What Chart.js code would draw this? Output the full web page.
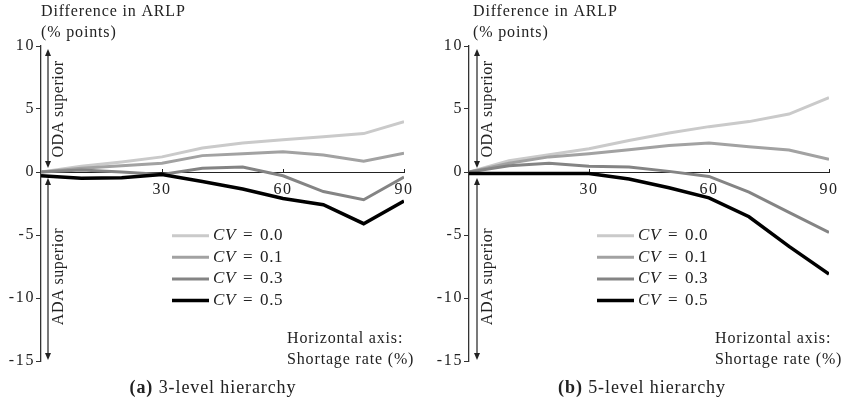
<!DOCTYPE html>
<html><head><meta charset="utf-8">
<script src="https://cdn.jsdelivr.net/npm/chart.js@4/dist/chart.umd.min.js"></script>
<style>
html,body{margin:0;padding:0;background:#fff;}
#wrap{position:relative;width:849px;height:400px;overflow:hidden;background:#fff;}
.panel{position:absolute;top:0;width:424px;height:400px;}
.cap{position:absolute;top:377px;font-family:"Liberation Serif",serif;font-size:18px;letter-spacing:0.9px;color:#222;white-space:nowrap;transform:translateX(-50%);line-height:20px;}
</style></head>
<body><div id="wrap">
<div class="panel" style="left:0"><canvas id="c1" width="424" height="400"></canvas></div>
<div class="panel" style="left:425px"><canvas id="c2" width="424" height="400"></canvas></div>
<div class="cap" style="left:213px"><b>(a)</b> 3-level hierarchy</div>
<div class="cap" style="left:642px"><b>(b)</b> 5-level hierarchy</div>
</div>
<script>
// ---- data ----
const shortageRates = [0, 10, 20, 30, 40, 50, 60, 70, 80, 90];
const cvLabels = ['0.0', '0.1', '0.3', '0.5'];
const yTicks = [10, 5, 0, -5, -10, -15];
const xTickLabels = [30, 60, 90];
// (a) 3-level hierarchy
const a_cv00 = [0, 0.45, 0.8, 1.2, 1.9, 2.3, 2.55, 2.8, 3.05, 4.0];
const a_cv01 = [0, 0.3, 0.5, 0.7, 1.3, 1.45, 1.6, 1.35, 0.85, 1.5];
const a_cv03 = [0, 0.15, 0.0, -0.2, 0.3, 0.4, -0.3, -1.55, -2.2, -0.4];
const a_cv05 = [-0.3, -0.5, -0.45, -0.2, -0.75, -1.35, -2.1, -2.6, -4.1, -2.3];
// (b) 5-level hierarchy
const b_cv00 = [0, 0.9, 1.37, 1.85, 2.5, 3.1, 3.6, 4.0, 4.6, 5.9];
const b_cv01 = [0, 0.7, 1.2, 1.45, 1.77, 2.1, 2.3, 2.0, 1.75, 1.0];
const b_cv03 = [0, 0.5, 0.7, 0.45, 0.4, 0.05, -0.35, -1.6, -3.2, -4.8];
const b_cv05 = [-0.12, -0.12, -0.12, -0.12, -0.55, -1.25, -2.05, -3.55, -5.9, -8.1];

// ---- styles ----
const lineColors = ['#cacaca', '#a2a2a2', '#848484', '#000000'];
const lineWidths = [3, 3, 3, 3.5];
const SERIF = '"Liberation Serif", "DejaVu Serif", serif';
const TXT = '#222';

function toPoints(ys) { return shortageRates.map((x, i) => ({ x: x, y: ys[i] })); }

function drawArrowHead(ctx, x, y, dir) {
  ctx.beginPath();
  ctx.moveTo(x, y);
  ctx.lineTo(x - 3, y - 7 * dir);
  ctx.lineTo(x + 3, y - 7 * dir);
  ctx.closePath();
  ctx.fill();
}

const annotPlugin = {
  id: 'annot',
  beforeDraw(chart) {
    chart.ctx.letterSpacing = '1.6px';
  },
  afterDraw(chart, args, opts) {
    const ctx = chart.ctx;
    const ca = chart.chartArea;
    const ys = chart.scales.y;
    ctx.save();
    ctx.letterSpacing = '0.85px';
    ctx.fillStyle = TXT;
    ctx.strokeStyle = TXT;
    // axis title
    ctx.font = '16px ' + SERIF;
    ctx.textAlign = 'left';
    ctx.textBaseline = 'middle';
    ctx.fillText('Difference in ARLP', ca.left + opts.titleDx, 12);
    ctx.fillText('(% points)', ca.left + opts.titleDx, 33);
    // horizontal axis note
    ctx.fillText('Horizontal axis:', ca.left + 246, 339);
    ctx.fillText('Shortage rate (%)', ca.left + 246, 360);
    // arrows
    const ax = ca.left + opts.arrowDx;
    const z = ys.getPixelForValue(0);
    const t1 = ys.getPixelForValue(10) + 3, b1 = z - 4;
    const t2 = z + 6, b2 = ys.getPixelForValue(-15) - 1;
    ctx.lineWidth = 1.2;
    ctx.beginPath();
    ctx.moveTo(ax, t1 + 5); ctx.lineTo(ax, b1 - 5);
    ctx.moveTo(ax, t2 + 5); ctx.lineTo(ax, b2 - 5);
    ctx.stroke();
    drawArrowHead(ctx, ax, t1, -1);
    drawArrowHead(ctx, ax, b1, 1);
    drawArrowHead(ctx, ax, t2, -1);
    drawArrowHead(ctx, ax, b2, 1);
    // rotated labels
    ctx.letterSpacing = '0.5px';
    ctx.textAlign = 'center';
    ctx.textBaseline = 'middle';
    const tx = ca.left + opts.arrowDx + 11;
    [['ODA superior', 5], ['ADA superior', -8.3]].forEach(([s, v]) => {
      ctx.save();
      ctx.translate(tx, ys.getPixelForValue(v));
      ctx.rotate(-Math.PI / 2);
      ctx.fillText(s, 0, 0);
      ctx.restore();
    });
    // legend
    ctx.letterSpacing = '0.6px';
    const ds = chart.data.datasets;
    ds.forEach((d, i) => {
      const y = 235.7 + i * 21.6;
      ctx.beginPath();
      ctx.lineWidth = d.borderWidth;
      ctx.strokeStyle = d.borderColor;
      ctx.moveTo(ca.left + opts.legDx, y);
      ctx.lineTo(ca.left + opts.legDx + 37, y);
      ctx.stroke();
      ctx.textAlign = 'left';
      ctx.fillStyle = TXT;
      let x = ca.left + opts.legDx + 41;
      ctx.font = 'italic 17px ' + SERIF;
      ctx.fillText('CV', x, y);
      x += ctx.measureText('CV').width + 7;
      ctx.font = '17px ' + SERIF;
      ctx.fillText('=', x, y);
      x += ctx.measureText('=').width + 7;
      ctx.fillText(d.label, x, y);
    });
    ctx.restore();
    ctx.letterSpacing = '0px';
  }
};

function makeChart(id, series, axisWidth, padRight, opts) {
  const datasets = series.map((s, i) => ({
    label: cvLabels[i],
    data: toPoints(s),
    borderColor: lineColors[i],
    backgroundColor: lineColors[i],
    borderWidth: lineWidths[i],
    pointRadius: 0,
    tension: 0,
    fill: false,
    order: series.length - i
  }));
  return new Chart(document.getElementById(id), {
    type: 'line',
    data: { datasets },
    plugins: [annotPlugin],
    options: {
      responsive: false,
      animation: false,
      devicePixelRatio: 1,
      layout: { padding: { left: 0, top: 46, right: padRight, bottom: 39 } },
      plugins: { legend: { display: false }, tooltip: { enabled: false }, annot: opts },
      scales: {
        x: {
          type: 'linear',
          min: 0, max: 90,
          position: { y: 0 },
          afterBuildTicks: s => { s.ticks = xTickLabels.map(v => ({ value: v })); },
          grid: { display: true, drawOnChartArea: false, drawTicks: true, tickLength: -4, color: '#222', lineWidth: 1 },
          border: { display: true, color: '#222', width: 1 },
          ticks: { padding: 12, maxRotation: 0, color: TXT, font: { family: SERIF, size: 16 } }
        },
        y: {
          type: 'linear',
          min: -15, max: 10,
          afterBuildTicks: s => { s.ticks = yTicks.map(v => ({ value: v })); },
          afterFit: s => { s.width = axisWidth; },
          grid: { display: true, drawOnChartArea: false, drawTicks: true, tickLength: 5, color: '#333', lineWidth: 1 },
          border: { display: true, color: '#333', width: 1.3 },
          ticks: { padding: 1, color: TXT, font: { family: SERIF, size: 16 }, callback: v => String(v) }
        }
      }
    }
  });
}

makeChart('c1', [a_cv00, a_cv01, a_cv03, a_cv05], 41, 17, { titleDx: 0, arrowDx: 7, legDx: 131 });
makeChart('c2', [b_cv00, b_cv01, b_cv03, b_cv05], 44, 14, { titleDx: 4, arrowDx: 8, legDx: 128 });
</script>
</body></html>
